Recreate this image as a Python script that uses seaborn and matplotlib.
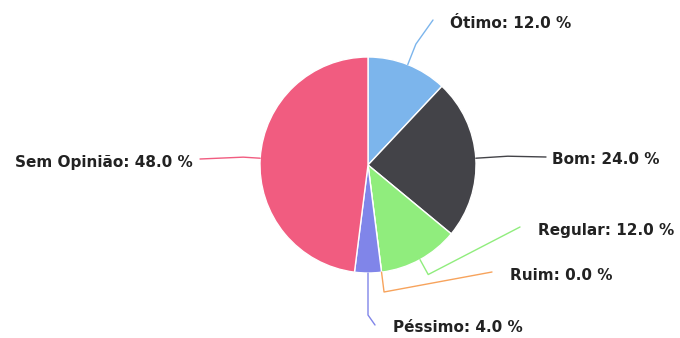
import numpy as np
import matplotlib.pyplot as plt
import seaborn as sns

sns.set_theme(style="white")
plt.rcParams['font.family'] = ['DejaVu Sans']

categories = ['Ótimo', 'Bom', 'Regular', 'Ruim', 'Péssimo', 'Sem Opinião']
values = [12.0, 24.0, 12.0, 0.0, 4.0, 48.0]
colors = ['#7cb5ec', '#434348', '#90ed7d', '#f7a35c', '#8085e9', '#f15c80']

# layout (pixels from top-left): text anchor, connector gap, elbow radius, alignment
label_pos = [(450, 23), (552, 160), (538, 230), (510, 275), (393, 328), (193, 162)]
line_gap = [17, 6, 18, 18, 18, 7]
elbow_r = [130, 140, 125, 128, 150, 125]
align = ['left', 'left', 'left', 'left', 'left', 'right']

W, H = 680, 338
cx, cy, r = 368, H - 165, 108

fig = plt.figure(figsize=(6.8, 3.38), dpi=100)
ax = fig.add_axes([0, 0, 1, 1])
ax.pie(values, colors=colors, startangle=90, counterclock=False,
       center=(cx, cy), radius=r, frame=True,
       wedgeprops=dict(edgecolor='white', linewidth=1))
ax.set_xlim(0, W)
ax.set_ylim(0, H)
ax.set_aspect('equal')
ax.axis('off')

total = sum(values)
cum = 0
for name, v, col, (lx, ly), g, er, ha in zip(categories, values, colors, label_pos,
                                            line_gap, elbow_r, align):
    mid = (cum + v / 2) / total * 2 * np.pi
    cum += v
    ly = H - ly
    sx, sy = cx + r * np.sin(mid), cy + r * np.cos(mid)
    ex, ey = cx + er * np.sin(mid), cy + er * np.cos(mid)
    end = lx - g if ha == 'left' else lx + g
    ax.plot([sx, ex, end], [sy, ey, ly + 3], color=col, lw=1, solid_capstyle='round')
    ax.text(lx, ly, f'{name}: {v:.1f} %', ha=ha, va='center',
            fontsize=11, fontweight='bold', color='#222222')

fig.savefig('out.png', dpi=100)
